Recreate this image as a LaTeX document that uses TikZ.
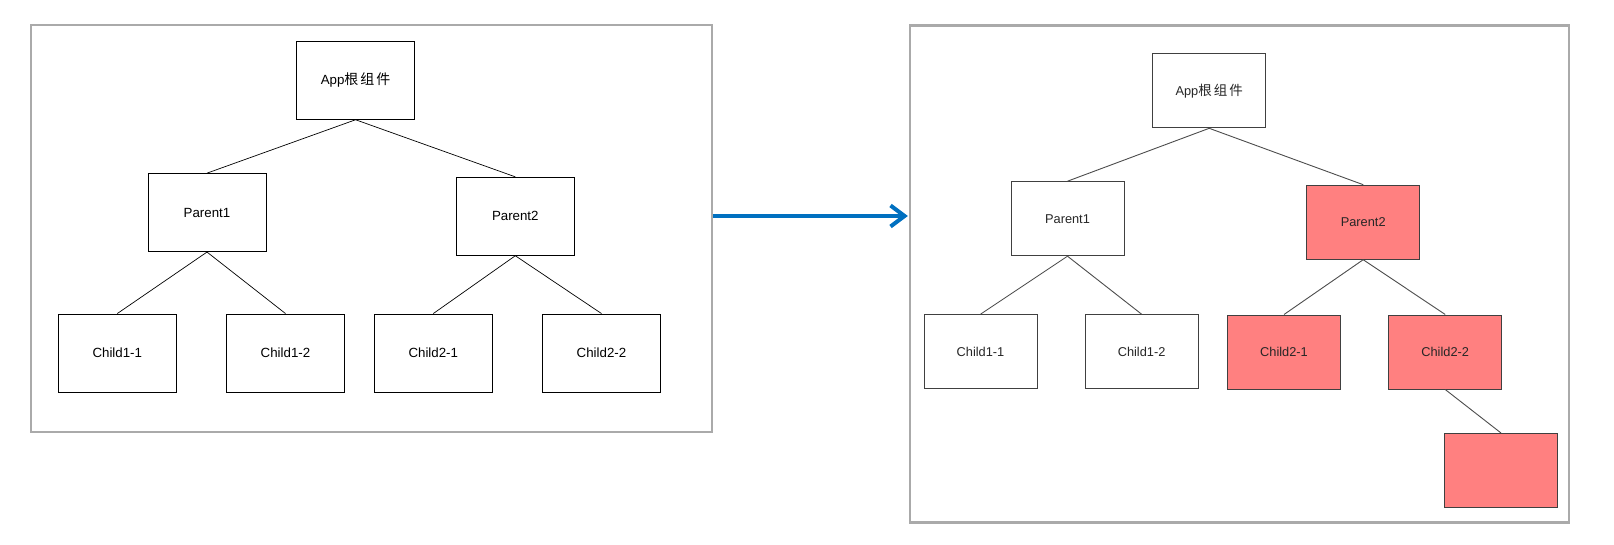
\documentclass[tikz,border=0pt]{standalone}
\usepackage{fontspec}
\setmainfont{Liberation Sans}
\newfontfamily\cjk{Noto Sans CJK SC}
\usepackage{xcolor}
\usepackage{tikz}
\usetikzlibrary{positioning}
\usetikzlibrary{arrows.meta}
\definecolor{framegray}{HTML}{AAAAAA}
\definecolor{hotred}{HTML}{FF8080}
\definecolor{flowblue}{HTML}{0070C0}
\newcommand{\rootlabel}[1]{App{\cjk\fontsize{#1}{#1}\selectfont 根\hspace{2pt}组\hspace{2pt}件}}
\tikzset{comp/.style={ % Boxes of the tree before the change
           draw=black, line width=0.9pt, fill=white,
           minimum width=118pt, minimum height=78pt, inner sep=0pt,
           font=\fontsize{13.3}{16}\selectfont},
         comp2/.style={ % Boxes of the tree after the change
           draw=black!75, line width=1pt, fill=white,
           minimum width=113pt, minimum height=74pt, inner sep=0pt,
           text=black!85, font=\fontsize{12.8}{15}\selectfont},
         hot/.style={comp2, fill=hotred}, % Components that render again
         panel/.style={draw=framegray, line width=2.5pt},
         flow/.style={-{Straight Barb[length=14pt,width=21pt]},
           line width=4pt, draw=flowblue},
         every edge/.style={ % Tree links
           draw, line width=0.7pt},
         link2/.style={draw=black!70, line width=0.9pt}}

\begin{document}
\begin{tikzpicture}[x=1pt, y=-1pt, on grid]
      \useasboundingbox (0,0) rectangle (1614,545);

      % before
      \node[panel, minimum width=681pt, minimum height=407pt] (before) at (371.5,228.5) {};
      \node[comp] (app) at (355.6,80.3) {\rootlabel{14}};
      \node[comp, below left=132.3pt and 148.6pt of app] (p1) {Parent1};
      \node[comp, below right=136pt and 159.7pt of app] (p2) {Parent2};
      \node[comp, below left=140.4pt and 89.7pt of p1] (c11) {Child1-1};
      \node[comp, below right=140.4pt and 78.5pt of p1] (c12) {Child1-2};
      \node[comp, below left=136.7pt and 82pt of p2] (c21) {Child2-1};
      \node[comp, below right=136.7pt and 86.2pt of p2] (c22) {Child2-2};

      \draw (app.south) edge (p1.north) edge (p2.north);
      \draw (p1.south) edge (c11.north) edge (c12.north);
      \draw (p2.south) edge (c21.north) edge (c22.north);

      % after
      \node[panel, minimum width=659pt, minimum height=497pt] (after) at (1239.6,274) {};
      \node[comp2] (rapp) at (1209.2,90.8) {\rootlabel{13.5}};
      \node[comp2, below left=127.9pt and 141.7pt of rapp] (rp1) {Parent1};
      \node[hot, below right=131.4pt and 154pt of rapp] (rp2) {Parent2};
      \node[comp2, below left=133pt and 87pt of rp1] (rc11) {Child1-1};
      \node[comp2, below right=133pt and 74.1pt of rp1] (rc12) {Child1-2};
      \node[hot, below left=129.8pt and 79.2pt of rp2] (rc21) {Child2-1};
      \node[hot, below right=129.8pt and 82pt of rp2] (rc22) {Child2-2};
      \node[hot, below right=118.5pt and 55.8pt of rc22] (rnew) {};

      \draw (rapp.south) edge[link2] (rp1.north) edge[link2] (rp2.north);
      \draw (rp1.south) edge[link2] (rc11.north) edge[link2] (rc12.north);
      \draw (rp2.south) edge[link2] (rc21.north) edge[link2] (rc22.north);
      \draw (rc22.south) edge[link2] (rnew.north);

      \draw[flow, shorten >=1pt] ([yshift=12.5pt]before.east) -- ([yshift=12.5pt]before.east -| after.west);

    \end{tikzpicture}
\end{document}
